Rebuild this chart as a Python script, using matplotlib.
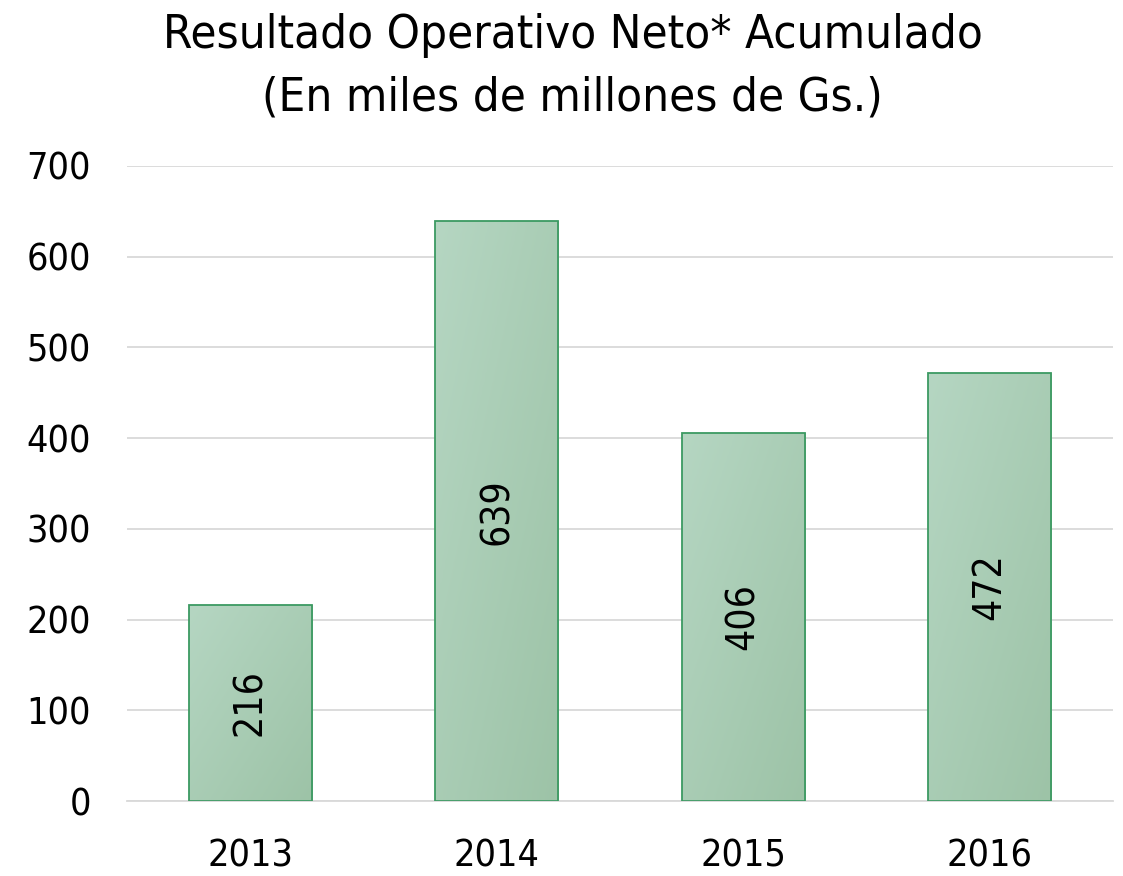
import numpy as np
import matplotlib
matplotlib.use("Agg")
import matplotlib.pyplot as plt
from matplotlib.colors import LinearSegmentedColormap

years = ["2013", "2014", "2015", "2016"]
values = [216, 639, 406, 472]
yticks = [0, 100, 200, 300, 400, 500, 600, 700]

plt.rcParams["font.family"] = ["DejaVu Sans"]
plt.rcParams["font.stretch"] = "condensed"

fig = plt.figure(figsize=(11.23, 8.76), dpi=100)
ax = fig.add_axes([0.113, 0.0856, 0.878, 0.725])

x = np.arange(len(years))
bars = ax.bar(x, values, width=0.5, color="none", edgecolor="#3c9a62", linewidth=1.3, zorder=3)

# diagonal gradient fill, clipped to each bar
cmap = LinearSegmentedColormap.from_list("g", ["#b5d6c2", "#9dc3a7"])
gx, gy = np.meshgrid(np.linspace(0, 1, 50), np.linspace(0, 1, 50))
grad = (gx + gy) / 2
for b in bars:
    x0, y0 = b.get_x(), b.get_y()
    w, h = b.get_width(), b.get_height()
    im = ax.imshow(grad, cmap=cmap, extent=[x0, x0 + w, y0, y0 + h],
                   origin="upper", aspect="auto", zorder=2)
    im.set_clip_path(b)
    ax.text(x0 + w / 2, h / 2, str(int(h)), rotation=90, ha="center", va="center",
            fontsize=28, color="black", zorder=4)

ax.set_xlim(-0.5, len(years) - 0.5)
ax.set_ylim(0, 700)
ax.set_yticks(yticks)
ax.set_xticks(x)
ax.set_xticklabels(years)
ax.tick_params(axis="both", length=0, labelsize=27, colors="black")
ax.tick_params(axis="y", pad=26)
ax.tick_params(axis="x", pad=27)
ax.grid(axis="y", color="#d9d9d9", linewidth=1.3, zorder=0)
for s in ["top", "right", "left"]:
    ax.spines[s].set_visible(False)
ax.spines["bottom"].set_color("#d9d9d9")
ax.spines["bottom"].set_linewidth(1.3)

fig.suptitle("Resultado Operativo Neto* Acumulado\n(En miles de millones de Gs.)",
             fontsize=34, y=0.985, x=0.51, linespacing=1.5)

fig.savefig("out.png", dpi=100)
